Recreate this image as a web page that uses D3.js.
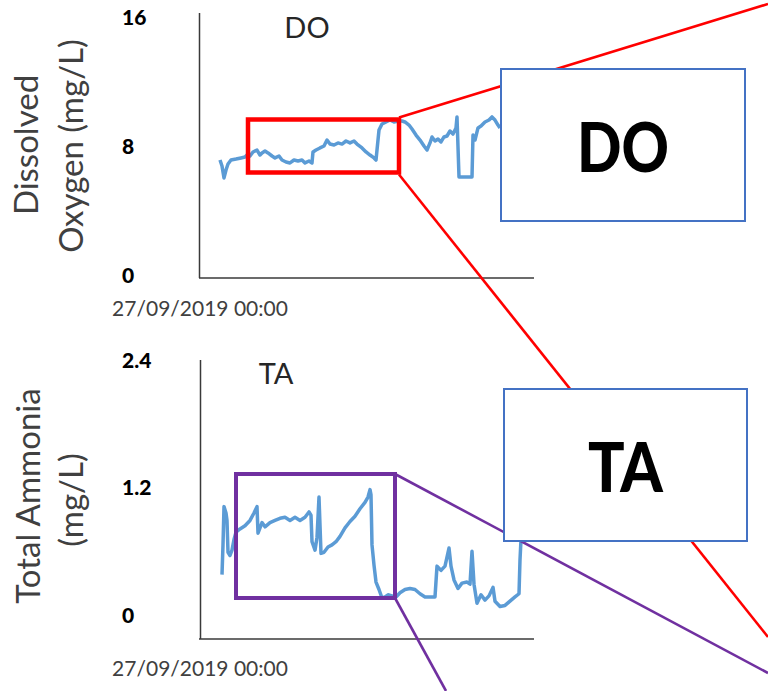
<!DOCTYPE html>
<html>
<head>
<meta charset="utf-8">
<script src="https://cdn.jsdelivr.net/npm/d3@7"></script>
<style>
  html, body { margin: 0; padding: 0; background: #fff; }
  svg { display: block; font-family: Lato, "Open Sans", sans-serif; }
</style>
</head>
<body>
<script>
// Sensor record start; time offsets below are hours after this instant
const startTime = new Date(2019, 8, 27, 0, 0);
const spanHours = 334;

// Dissolved oxygen (mg/L)
const doHours = [20,22,24,26,28,31,36,41,45,48,50,53,57,60,62,65,68,72,75,79,
  82,86,90,94,98,102,105,109,112,113,116,120,124,127,130,134,138,142,146,150,
  154,157,162,166,170,174,176,178,179,182,186,190,194,198,202,205,209,212,216,220,
  224,227,230,232,235,238,241,244,247,250,253,256,257,259,272,273,275,278,281,285,
  289,292,295,298,300];
const doValues = [7.13,6.76,6.02,6.51,6.88,7.13,7.19,7.26,7.32,7.50,
  7.38,7.63,7.75,7.44,7.57,7.69,7.57,7.38,7.26,7.38,
  7.13,7.01,6.95,7.13,7.07,7.13,6.95,7.07,6.95,7.63,
  7.75,7.88,8.00,8.37,8.12,8.06,8.19,8.12,8.31,8.19,
  8.31,8.12,7.88,7.63,7.44,7.26,7.13,8.37,8.99,9.36,
  9.49,9.61,9.49,9.55,9.55,9.49,9.30,9.05,8.68,8.37,
  8.00,7.75,8.19,8.56,8.31,8.43,8.25,8.56,8.62,8.93,
  8.74,9.12,9.80,6.08,6.08,8.68,8.37,9.12,9.24,9.49,
  9.61,9.80,9.61,9.30,9.12];
const doTicks = [0, 8, 16];
const doTickLabels = ["0", "8", "16"];

// Total ammonia (mg/L)
const taHours = [22,23,24,26,27,28,30,32,34,36,40,45,50,54,57,58,62,65,70,75,
  80,85,90,95,100,105,109,111,112,115,117,119,121,124,128,132,136,140,145,150,
  155,160,165,168,170,171,172,174,176,179,182,185,188,192,196,200,205,210,215,220,
  225,230,235,237,241,245,249,251,254,258,262,267,270,272,274,277,281,285,289,293,
  295,300,305,310,315,319,320,321];
const taValues = [0.38,0.66,1.02,0.96,0.89,0.59,0.56,0.61,0.71,0.78,0.81,0.84,0.89,0.96,1.02,0.77,0.87,0.83,0.87,0.89,
  0.91,0.92,0.89,0.92,0.89,0.92,0.97,0.94,0.69,0.61,0.73,1.11,0.58,0.59,0.64,0.66,0.69,0.74,0.82,0.88,
  0.93,1.00,1.06,1.11,1.18,1.13,0.66,0.47,0.31,0.24,0.16,0.17,0.19,0.18,0.17,0.21,0.24,0.25,0.24,0.20,
  0.17,0.17,0.17,0.46,0.42,0.46,0.63,0.46,0.33,0.25,0.30,0.31,0.29,0.60,0.29,0.11,0.19,0.14,0.18,0.26,
  0.13,0.08,0.09,0.13,0.17,0.20,0.52,0.71];
const taTicks = [0, 1.2, 2.4];
const taTickLabels = ["0", "1.2", "2.4"];

const xTickLabel = "27/09/2019 00:00";

const W = 768, H = 691;
const svg = d3.select("body").append("svg").attr("width", W).attr("height", H);

const hour = 3600 * 1000;
const x = d3.scaleTime()
  .domain([startTime, new Date(+startTime + spanHours * hour)])
  .range([200, 534]);

const panels = [
  { title: "DO", hours: doHours, values: doValues, ticks: doTicks, tickLabels: doTickLabels,
    domain: [0, 16], yRange: [275, 17], frameTop: 13, frameBottom: 278, axisX: 199.5,
    titleLines: ["Dissolved", "Oxygen (mg/L)"], titleX: [38, 83], titleY: [145, 146],
    headX: 307, headY: 38, xLabelY: 316 },
  { title: "TA", hours: taHours, values: taValues, ticks: taTicks, tickLabels: taTickLabels,
    domain: [0, 2.4], yRange: [615, 360], frameTop: 360, frameBottom: 639, axisX: 200.5,
    titleLines: ["Total Ammonia", "(mg/L)"], titleX: [40, 83], titleY: [496, 500],
    headX: 276, headY: 384, xLabelY: 676 }
];

panels.forEach(p => {
  const y = d3.scaleLinear().domain(p.domain).range(p.yRange);
  const g = svg.append("g");

  // axis frame (left and bottom)
  g.append("line").attr("x1", p.axisX).attr("x2", p.axisX)
    .attr("y1", p.frameTop).attr("y2", p.frameBottom)
    .attr("stroke", "#3a3a3a").attr("stroke-width", 1.5);
  g.append("line").attr("x1", x.range()[0] - 1).attr("x2", x.range()[1])
    .attr("y1", p.frameBottom).attr("y2", p.frameBottom)
    .attr("stroke", "#3a3a3a").attr("stroke-width", 1.5);

  // y tick labels
  g.selectAll("text.tick").data(p.ticks).join("text")
    .attr("class", "tick")
    .attr("x", 122).attr("y", d => y(d) + 7.5)
    .attr("font-size", 21).attr("font-weight", 900).attr("fill", "#000")
    .text((d, i) => p.tickLabels[i]);

  // y axis title (two lines)
  p.titleLines.forEach((t, i) => {
    g.append("text")
      .attr("transform", `translate(${p.titleX[i]},${p.titleY[i]}) rotate(-90)`)
      .attr("text-anchor", "middle").attr("font-size", 33).attr("fill", "#404040")
      .text(t);
  });

  // x tick label at record start
  g.append("text").attr("x", x(startTime)).attr("y", p.xLabelY)
    .attr("text-anchor", "middle").attr("font-size", 21).attr("fill", "#404040")
    .text(xTickLabel);

  // panel heading
  g.append("text").attr("x", p.headX).attr("y", p.headY)
    .attr("text-anchor", "middle").attr("font-size", 29).attr("fill", "#262626")
    .text(p.title);

  // series
  const pts = p.hours.map((h, i) => [new Date(+startTime + h * hour), p.values[i]]);
  g.append("path").datum(pts)
    .attr("fill", "none").attr("stroke", "#5B9BD5").attr("stroke-width", 3.5)
    .attr("stroke-linejoin", "round")
    .attr("d", d3.line().x(d => x(d[0])).y(d => y(d[1])));
});

// highlight windows and their callouts
const callouts = [
  { color: "#FF0000", rect: [248, 119.5, 399, 172.5], sw: 4.5,
    lines: [[399, 117.5, 768, 4], [399, 174.5, 768, 637]],
    box: [501, 69, 244, 152], label: "DO", labelX: 623, labelY: 172, labelW: 92 },
  { color: "#7030A0", rect: [236, 474, 395, 598], sw: 4,
    lines: [[395, 474, 768, 673], [395, 598, 446, 691]],
    box: [504, 389, 243, 152], label: "TA", labelX: 625.5, labelY: 492, labelW: 75 }
];

callouts.forEach(c => {
  svg.append("rect")
    .attr("x", c.rect[0]).attr("y", c.rect[1])
    .attr("width", c.rect[2] - c.rect[0]).attr("height", c.rect[3] - c.rect[1])
    .attr("fill", "none").attr("stroke", c.color).attr("stroke-width", c.sw);
});
callouts.forEach(c => {
  c.lines.forEach(l => {
    svg.append("line").attr("x1", l[0]).attr("y1", l[1]).attr("x2", l[2]).attr("y2", l[3])
      .attr("stroke", c.color).attr("stroke-width", 2.6);
  });
});
callouts.forEach(c => {
  svg.append("rect")
    .attr("x", c.box[0]).attr("y", c.box[1]).attr("width", c.box[2]).attr("height", c.box[3])
    .attr("fill", "#fff").attr("stroke", "#4472C4").attr("stroke-width", 2);
  svg.append("text").attr("x", c.labelX).attr("y", c.labelY)
    .attr("text-anchor", "middle").attr("font-size", 68).attr("font-weight", 900)
    .attr("fill", "#000")
    .attr("textLength", c.labelW).attr("lengthAdjust", "spacingAndGlyphs")
    .text(c.label);
});
</script>
</body>
</html>
